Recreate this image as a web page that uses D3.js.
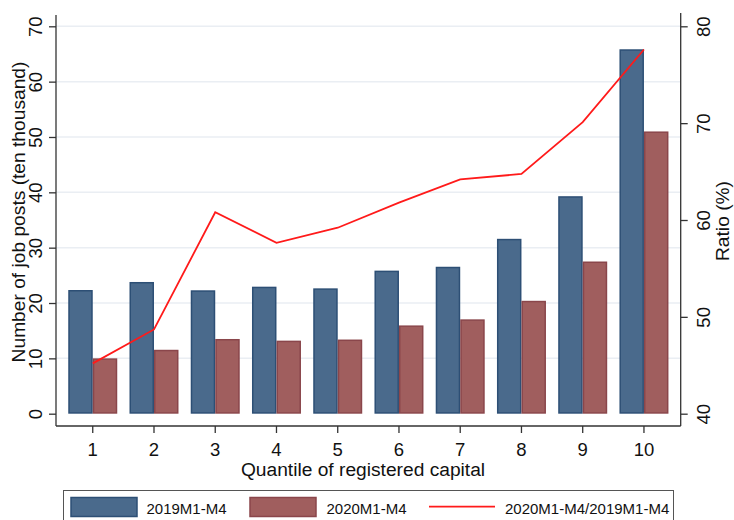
<!DOCTYPE html>
<html>
<head>
<meta charset="utf-8">
<script src="https://cdn.jsdelivr.net/npm/d3@7"></script>
<style>
  html, body { margin: 0; padding: 0; background: #fff; }
  svg { display: block; font-family: "Liberation Sans", Arial, sans-serif; }
</style>
</head>
<body>
<svg id="chart" width="734" height="520"></svg>
<script>
// Quantiles of registered capital
const quantiles = [1, 2, 3, 4, 5, 6, 7, 8, 9, 10];
// Job posts, ten thousand
const posts2019 = [22.35, 23.8, 22.3, 22.95, 22.65, 25.85, 26.55, 31.6, 39.3, 65.85];
const posts2020 = [10.0, 11.55, 13.5, 13.2, 13.4, 15.95, 17.05, 20.4, 27.5, 51.0];
// 2020 / 2019 ratio, percent
const ratioPct = [45.2, 48.7, 60.8, 57.65, 59.2, 61.8, 64.2, 64.75, 70.1, 77.6];
const leftTicks = [0, 10, 20, 30, 40, 50, 60, 70];
const rightTicks = [40, 50, 60, 70, 80];
const seriesNames = ["2019M1-M4", "2020M1-M4", "2020M1-M4/2019M1-M4"];

const svg = d3.select("#chart");
const plot = { left: 56, right: 680.7, top: 15, bottom: 426 };

const x = d3.scaleBand()
  .domain(quantiles)
  .range([plot.left, plot.right])
  .paddingInner(0.2)
  .paddingOuter(0.2);
const xSub = d3.scaleBand()
  .domain([0, 1])
  .range([0, x.bandwidth()]);
const yL = d3.scaleLinear().domain([0, 70]).range([413.7, 26.3]);
const yR = d3.scaleLinear().domain([40, 80]).range([413.7, 26.3]);

// horizontal grid
svg.append("g").selectAll("line")
  .data(leftTicks.filter(d => d > 0))
  .join("line")
  .attr("x1", plot.left).attr("x2", plot.right)
  .attr("y1", d => yL(d)).attr("y2", d => yL(d))
  .attr("stroke", "#eaeef3").attr("stroke-width", 1.5);

// bars
const colors = ["#4a6a8c", "#a05e5e"];
const strokes = ["#2d4f75", "#8a464b"];
const rows = quantiles.map((q, i) => ({ q, vals: [posts2019[i], posts2020[i]] }));
svg.append("g").selectAll("g")
  .data(rows)
  .join("g")
  .attr("transform", d => `translate(${x(d.q)},0)`)
  .selectAll("rect")
  .data(d => d.vals.map((v, k) => ({ v, k })))
  .join("rect")
  .attr("x", d => xSub(d.k) + 0.75)
  .attr("width", xSub.bandwidth() - 1.5)
  .attr("y", d => yL(d.v) + 0.75)
  .attr("height", d => yL(0) - yL(d.v) - 1.5)
  .attr("fill", d => colors[d.k])
  .attr("stroke", d => strokes[d.k])
  .attr("stroke-width", 1.5);

// ratio line
const line = d3.line()
  .x((d, i) => x(quantiles[i]) + x.bandwidth() / 2)
  .y(d => yR(d));
svg.append("path")
  .datum(ratioPct)
  .attr("d", line)
  .attr("fill", "none")
  .attr("stroke", "#ff1a1a")
  .attr("stroke-width", 1.8);

// axes
const axisColor = "#333";
const tickFont = 18.5;

const gx = svg.append("g")
  .attr("transform", `translate(0,${plot.bottom})`)
  .call(d3.axisBottom(x).tickSize(7).tickSizeOuter(0).tickPadding(10));
gx.select(".domain").attr("d", `M${plot.left},0H${plot.right}`);
gx.selectAll(".tick line").attr("stroke", axisColor).attr("stroke-width", 1.3);
gx.selectAll(".tick text").attr("font-size", tickFont).attr("fill", "#111")
  .attr("font-family", "Liberation Sans, Arial, sans-serif");

const gl = svg.append("g")
  .attr("transform", `translate(${plot.left},0)`)
  .call(d3.axisLeft(yL).tickValues(leftTicks).tickSize(7).tickSizeOuter(0));
gl.select(".domain").attr("d", `M0,${plot.top}V${plot.bottom}`);
gl.selectAll(".tick line").attr("stroke", axisColor).attr("stroke-width", 1.3);
gl.selectAll(".tick text")
  .attr("x", null).attr("dy", null)
  .attr("transform", "translate(-14.3,0) rotate(-90)")
  .attr("text-anchor", "middle")
  .attr("font-size", tickFont).attr("fill", "#111")
  .attr("font-family", "Liberation Sans, Arial, sans-serif");

const gr = svg.append("g")
  .attr("transform", `translate(${plot.right},0)`)
  .call(d3.axisRight(yR).tickValues(rightTicks).tickSize(7).tickSizeOuter(0));
gr.select(".domain").attr("d", `M0,${plot.top - 2}V${plot.bottom}`);
gr.selectAll(".tick line").attr("stroke", axisColor).attr("stroke-width", 1.3);
gr.selectAll(".tick text")
  .attr("x", null).attr("dy", null)
  .attr("transform", "translate(29.3,0) rotate(-90)")
  .attr("text-anchor", "middle")
  .attr("font-size", tickFont).attr("fill", "#111")
  .attr("font-family", "Liberation Sans, Arial, sans-serif");

svg.selectAll(".domain").attr("stroke", axisColor).attr("stroke-width", 1.3);

// axis titles
svg.append("text")
  .attr("x", 363).attr("y", 476)
  .attr("text-anchor", "middle")
  .attr("font-size", 19.2).attr("fill", "#111")
  .text("Quantile of registered capital");
svg.append("text")
  .attr("transform", "translate(25,212) rotate(-90)")
  .attr("text-anchor", "middle")
  .attr("font-size", 19.2).attr("fill", "#111")
  .text("Number of job posts (ten thousand)");
svg.append("text")
  .attr("transform", "translate(729,221) rotate(-90)")
  .attr("text-anchor", "middle")
  .attr("font-size", 19.2).attr("fill", "#111")
  .text("Ratio (%)");

// legend
const lg = svg.append("g");
lg.append("rect")
  .attr("x", 63.5).attr("y", 490.5).attr("width", 610).attr("height", 40)
  .attr("fill", "#fff").attr("stroke", "#555").attr("stroke-width", 1);
const legendItems = [
  { kind: "bar", k: 0, sx: 71, tx: 146.5 },
  { kind: "bar", k: 1, sx: 250, tx: 326.5 },
  { kind: "line", sx: 429, tx: 505 }
];
legendItems.forEach((it, i) => {
  if (it.kind === "bar") {
    lg.append("rect")
      .attr("x", it.sx).attr("y", 497.5).attr("width", 66).attr("height", 19)
      .attr("fill", colors[it.k]).attr("stroke", strokes[it.k]).attr("stroke-width", 1.5);
  } else {
    lg.append("line")
      .attr("x1", it.sx).attr("x2", it.sx + 66)
      .attr("y1", 506.7).attr("y2", 506.7)
      .attr("stroke", "#ff1a1a").attr("stroke-width", 1.8);
  }
  lg.append("text")
    .attr("x", it.tx).attr("y", 514.3)
    .attr("font-size", 15).attr("fill", "#111")
    .text(seriesNames[i]);
});
</script>
</body>
</html>
